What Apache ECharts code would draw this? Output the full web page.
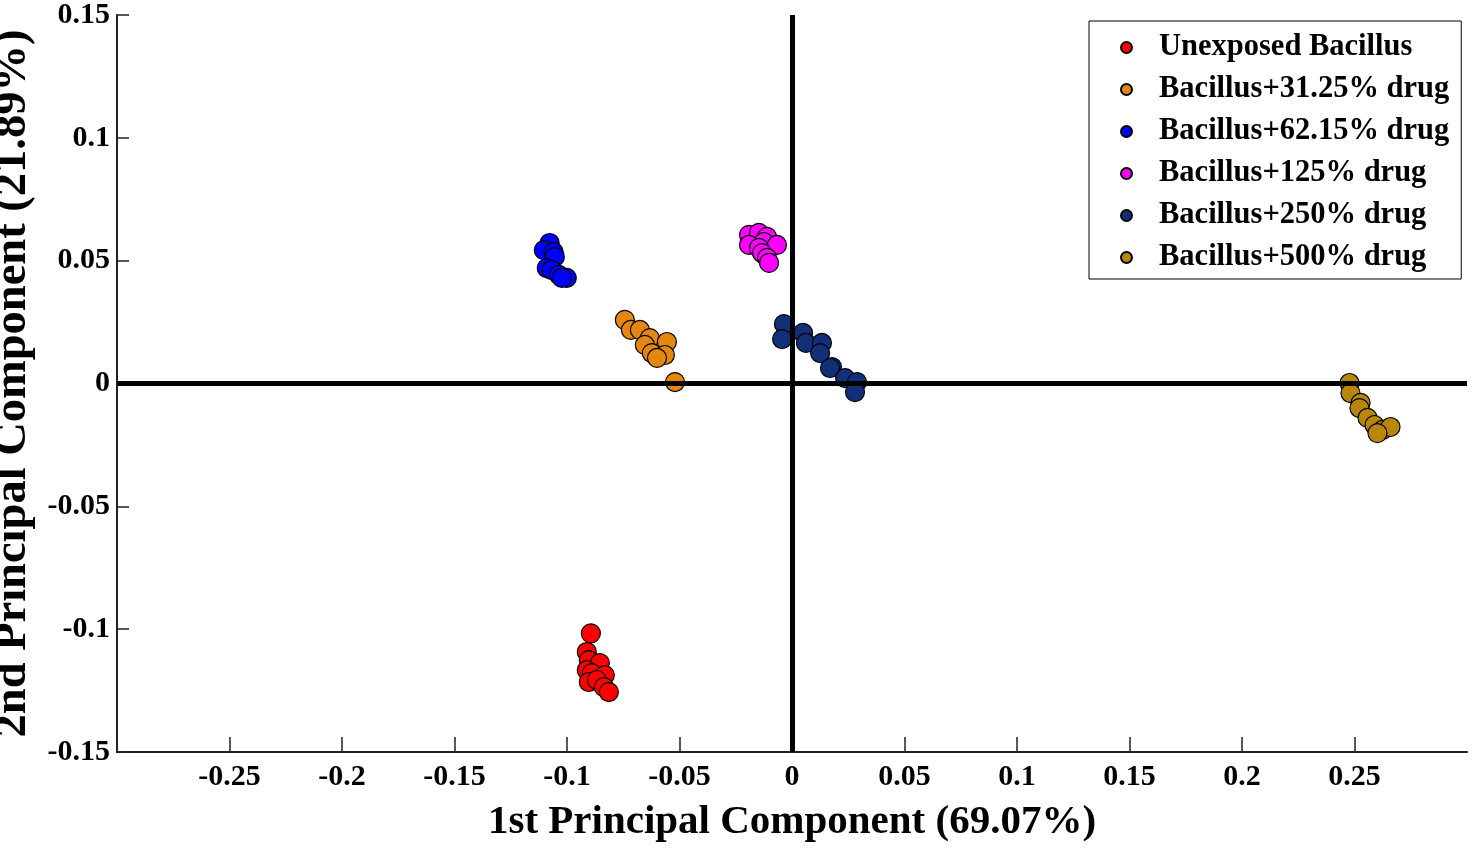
<!DOCTYPE html>
<html>
<head>
<meta charset="utf-8">
<title>PCA scores</title>
<script src="https://cdn.jsdelivr.net/npm/echarts@6/dist/echarts.min.js"></script>
<style>
  html, body { margin: 0; padding: 0; background: #fff; }
  #main { width: 1477px; height: 848px; }
</style>
</head>
<body>
<div id="main"></div>
<script>
// score points, [PC1, PC2]
var unexposed = [
  [-0.0894, -0.1017], [-0.0912, -0.1093], [-0.0903, -0.1126], [-0.0854, -0.1138],
  [-0.0912, -0.1167], [-0.0890, -0.1179], [-0.0832, -0.1187], [-0.0903, -0.1215],
  [-0.0867, -0.1207], [-0.0836, -0.1236], [-0.0814, -0.1256]
];
var drug31 = [
  [-0.0743, 0.0259], [-0.0716, 0.0218], [-0.0676, 0.0218], [-0.0632, 0.0185],
  [-0.0556, 0.0169], [-0.0654, 0.0157], [-0.0623, 0.0124], [-0.0565, 0.0116],
  [-0.0600, 0.0104], [-0.0520, 0.0006]
];
var drug62 = [
  [-0.1077, 0.0572], [-0.1103, 0.0543], [-0.1059, 0.0535], [-0.1054, 0.0515],
  [-0.1090, 0.0470], [-0.1068, 0.0462], [-0.1036, 0.0442], [-0.1001, 0.0430],
  [-0.1023, 0.0430]
];
var drug125 = [
  [-0.0191, 0.0605], [-0.0147, 0.0613], [-0.0111, 0.0597], [-0.0125, 0.0576],
  [-0.0067, 0.0564], [-0.0191, 0.0564], [-0.0147, 0.0552], [-0.0133, 0.0531],
  [-0.0111, 0.0511], [-0.0102, 0.0491]
];
var drug250 = [
  [-0.0036, 0.0242], [-0.0044, 0.0181], [0.0049, 0.0206], [0.0062, 0.0165],
  [0.0133, 0.0165], [0.0125, 0.0124], [0.0178, 0.0067], [0.0169, 0.0063],
  [0.0236, 0.0022], [0.0289, 0.0006], [0.0280, -0.0035]
];
var drug500 = [
  [0.2478, 0.0002], [0.2482, -0.0039], [0.2527, -0.0079], [0.2522, -0.0100],
  [0.2558, -0.0140], [0.2589, -0.0169], [0.2625, -0.0189], [0.2660, -0.0177],
  [0.2602, -0.0202]
];

var groupNames = [
  'Unexposed Bacillus', 'Bacillus+31.25% drug', 'Bacillus+62.15% drug',
  'Bacillus+125% drug', 'Bacillus+250% drug', 'Bacillus+500% drug'
];
var groupData = [unexposed, drug31, drug62, drug125, drug250, drug500];
var groupColors = ['#ff0000', '#e5870f', '#0000ff', '#ff00ff', '#12307a', '#b8860b'];

var xTicks = [-0.25, -0.2, -0.15, -0.1, -0.05, 0, 0.05, 0.1, 0.15, 0.2, 0.25];
var yTicks = [-0.15, -0.1, -0.05, 0, 0.05, 0.1, 0.15];

var serif = 'Liberation Serif';

var series = groupNames.map(function (name, i) {
  return {
    name: name,
    type: 'scatter',
    data: groupData[i],
    symbol: 'circle',
    symbolSize: 19,
    itemStyle: { color: groupColors[i], borderColor: '#000', borderWidth: 1.2, opacity: 1 },
    z: 2
  };
});

// thick zero lines, drawn above the points
series.push({
  name: 'zero',
  type: 'scatter',
  data: [],
  z: 5,
  markLine: {
    silent: true,
    symbol: 'none',
    label: { show: false },
    lineStyle: { color: '#000', width: 5, type: 'solid' },
    data: [{ xAxis: 0 }, { yAxis: 0 }]
  }
});

var myChart = echarts.init(document.getElementById('main'));
var option = {
  backgroundColor: '#fff',
  animation: false,
  grid: { left: 117, right: 10, top: 15, bottom: 96, outerBoundsMode: 'none', containLabel: false },
  legend: {
    data: groupNames,
    orient: 'vertical',
    left: 1089,
    top: 21,
    padding: [11, 12, 6, 31],
    itemGap: 11,
    itemWidth: 11,
    itemHeight: 11,
    icon: 'circle',
    backgroundColor: '#fff',
    borderColor: '#000',
    borderWidth: 1,
    textStyle: {
      fontFamily: serif, fontWeight: 'bold', fontSize: 30.5, color: '#000',
      lineHeight: 30, padding: [0, 0, 0, 22]
    }
  },
  xAxis: {
    type: 'value',
    min: -0.3,
    max: 0.3,
    name: '1st Principal Component (69.07%)',
    nameLocation: 'middle',
    nameGap: 50,
    nameTextStyle: { fontFamily: serif, fontWeight: 'bold', fontSize: 41, color: '#000' },
    splitLine: { show: false },
    axisLine: { show: true, onZero: false, lineStyle: { color: '#222', width: 2 } },
    axisTick: { show: true, inside: true, length: 15, lineStyle: { color: '#222', width: 1.5 }, customValues: xTicks },
    axisLabel: {
      customValues: xTicks,
      fontFamily: serif, fontWeight: 'bold', fontSize: 30, color: '#000', margin: 10
    }
  },
  yAxis: {
    type: 'value',
    min: -0.15,
    max: 0.15,
    interval: 0.05,
    name: '2nd Principal Component (21.89%)',
    nameLocation: 'middle',
    nameGap: 66,
    nameTextStyle: { fontFamily: serif, fontWeight: 'bold', fontSize: 46.5, color: '#000' },
    splitLine: { show: false },
    axisLine: { show: true, onZero: false, lineStyle: { color: '#222', width: 2 } },
    axisTick: { show: true, inside: true, length: 12, lineStyle: { color: '#222', width: 1.5 }, customValues: yTicks },
    axisLabel: {
      customValues: yTicks,
      fontFamily: serif, fontWeight: 'bold', fontSize: 30, color: '#000', margin: 7
    }
  },
  series: series
};
myChart.setOption(option);
</script>
</body>
</html>
